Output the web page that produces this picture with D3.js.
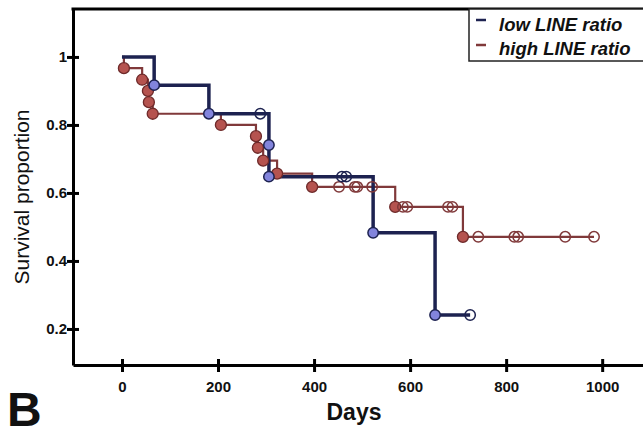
<!DOCTYPE html>
<html>
<head>
<meta charset="utf-8">
<script src="https://cdn.jsdelivr.net/npm/d3@7"></script>
<style>
  body { margin: 0; background: #fff; }
  text { font-family: "Liberation Sans", Arial, sans-serif; }
</style>
</head>
<body>
<script>
// Data
let lowEventDays = [0, 67, 181, 306, 306, 523, 652];
let lowEventSurv = [1, 0.917, 0.833, 0.741, 0.648, 0.483, 0.241];
let lowCensorDays = [288, 458, 467, 725];
let lowCensorSurv = [0.833, 0.648, 0.648, 0.241];

let highEventDays = [0, 4, 42, 54, 56, 64, 206, 279, 283, 294, 323, 396, 569, 710];
let highEventSurv = [1, 0.967, 0.933, 0.9, 0.867, 0.833, 0.8, 0.767, 0.733, 0.695, 0.657, 0.618, 0.559, 0.471];
let highCensorDays = [452, 485, 490, 521, 585, 594, 679, 688, 742, 817, 825, 923, 983];
let highCensorSurv = [0.618, 0.618, 0.618, 0.618, 0.559, 0.559, 0.559, 0.559, 0.471, 0.471, 0.471, 0.471, 0.471];

let xTicks = [0, 200, 400, 600, 800, 1000];
let yTicks = [0.2, 0.4, 0.6, 0.8, 1];
let seriesNames = ['low LINE ratio', 'high LINE ratio'];

let width = 643, height = 435;
let margin = { top: 9, bottom: 70, left: 73, right: 0 };

let svg = d3.select('body')
  .append('svg')
  .attr('width', width)
  .attr('height', height)
  .style('background', '#fff');

let xScale = d3.scaleLinear()
  .domain([-102, 1085])
  .range([margin.left, width - margin.right]);

let yScale = d3.scaleLinear()
  .domain([0.094, 1.141])
  .range([height - margin.bottom, margin.top]);

// x axis
let xAxis = svg.append('g')
  .attr('transform', `translate(0,${height - margin.bottom})`)
  .call(d3.axisBottom(xScale).tickValues(xTicks).tickSize(7).tickSizeOuter(0).tickPadding(9)
    .tickFormat(d3.format('d')));
xAxis.select('.domain').attr('stroke-width', 3).attr('stroke', '#000');
xAxis.selectAll('.tick line').attr('y1', -6).attr('stroke-width', 3);
xAxis.selectAll('.tick text')
  .style('font-size', '15px').style('font-weight', 'bold').attr('fill', '#111');

// y axis
let yAxis = svg.append('g')
  .attr('transform', `translate(${margin.left},0)`)
  .call(d3.axisLeft(yScale).tickValues(yTicks).tickSize(5).tickSizeOuter(0).tickPadding(2)
    .tickFormat(d => d === 1 ? '1' : d3.format('.1f')(d)));
yAxis.select('.domain').attr('stroke-width', 3).attr('stroke', '#000');
yAxis.selectAll('.tick line').attr('x2', 6).attr('x1', -6).attr('stroke-width', 3);
yAxis.selectAll('.tick text')
  .attr('x', -6)
  .style('font-size', '15px').style('font-weight', 'bold').attr('fill', '#111');

// top frame line
svg.append('line')
  .attr('x1', margin.left - 1.5).attr('x2', width)
  .attr('y1', yScale.range()[1]).attr('y2', yScale.range()[1])
  .attr('stroke', '#000').attr('stroke-width', 3);

// titles
svg.append('text')
  .attr('x', 354).attr('y', 420)
  .attr('text-anchor', 'middle')
  .style('font-size', '23px').style('font-weight', 'bold')
  .attr('fill', '#111')
  .text('Days');

svg.append('text')
  .attr('transform', 'rotate(-90)')
  .attr('x', -197).attr('y', 29)
  .attr('text-anchor', 'middle')
  .style('font-size', '21px')
  .attr('fill', '#111')
  .text('Survival proportion');

svg.append('text')
  .attr('x', 7).attr('y', 426)
  .style('font-size', '48px').style('font-weight', 'bold')
  .attr('fill', '#111')
  .text('B');

// curves
let line = d3.line()
  .x(d => xScale(d[0]))
  .y(d => yScale(d[1]))
  .curve(d3.curveStepAfter);

let lowPts = lowEventDays.map((d, i) => [d, lowEventSurv[i]]);
lowPts.push([d3.max(lowCensorDays), lowEventSurv[lowEventSurv.length - 1]]);
let highPts = highEventDays.map((d, i) => [d, highEventSurv[i]]);
highPts.push([d3.max(highCensorDays), highEventSurv[highEventSurv.length - 1]]);

let blueLine = '#1d2250', redLine = '#80393a';

svg.append('path').datum(highPts)
  .attr('d', line).attr('fill', 'none')
  .attr('stroke', redLine).attr('stroke-width', 2.2);

svg.append('path').datum(lowPts)
  .attr('d', line).attr('fill', 'none')
  .attr('stroke', blueLine).attr('stroke-width', 3.5);

// markers
function markers(days, surv, fill, stroke, r, sw) {
  svg.append('g').selectAll('circle')
    .data(days.map((d, i) => [d, surv[i]]))
    .enter().append('circle')
    .attr('cx', d => xScale(d[0]))
    .attr('cy', d => yScale(d[1]))
    .attr('r', r)
    .attr('fill', fill)
    .attr('stroke', stroke)
    .attr('stroke-width', sw);
}

markers(highEventDays.slice(1), highEventSurv.slice(1), '#b5534f', '#6e2a2a', 5.5, 1.3);
markers(highCensorDays, highCensorSurv, 'none', '#80393a', 5.2, 1.5);
markers(lowEventDays.slice(1), lowEventSurv.slice(1), '#8284dc', '#1d2250', 5.2, 1.5);
markers(lowCensorDays, lowCensorSurv, 'none', '#1d2250', 5.2, 1.5);

// legend
let legend = svg.append('g');
legend.append('rect')
  .attr('x', 469).attr('y', 9)
  .attr('width', 180).attr('height', 52)
  .attr('fill', '#fff').attr('stroke', '#222').attr('stroke-width', 1.5);
[blueLine, redLine].forEach((c, i) => {
  legend.append('line')
    .attr('x1', 476).attr('x2', 486)
    .attr('y1', 20 + i * 25).attr('y2', 20 + i * 25)
    .attr('stroke', c).attr('stroke-width', 2.5);
  legend.append('text')
    .attr('x', 499).attr('y', 31 + i * 24)
    .style('font-size', '18.5px').style('font-weight', 'bold').style('font-style', 'italic')
    .attr('fill', '#111')
    .text(seriesNames[i]);
});
</script>
</body>
</html>
